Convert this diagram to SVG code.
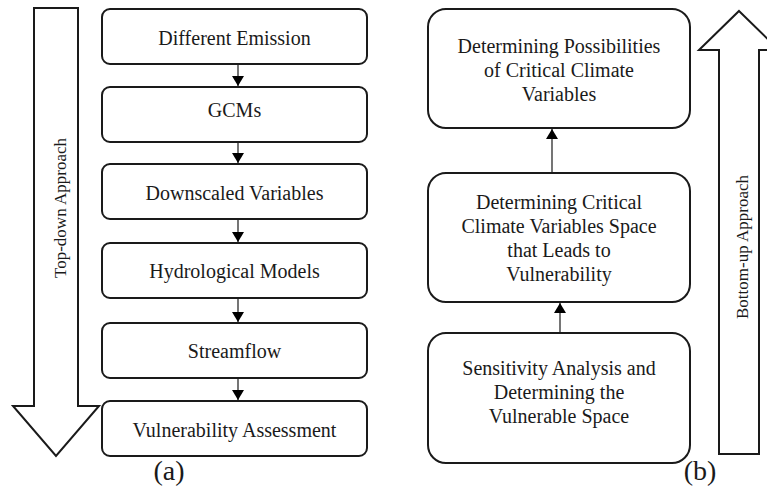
<svg xmlns="http://www.w3.org/2000/svg" width="767" height="489" viewBox="0 0 767 489">
<style>
text{font-family:"Liberation Serif","Times New Roman",serif;fill:#1a1a1a;text-anchor:middle}
.t{font-size:20px}
.v{font-size:17px}
.lab{font-size:28px}
.box{fill:#fff;stroke:#1a1a1a;stroke-width:2}
.big{fill:#fff;stroke:#1a1a1a;stroke-width:2;stroke-linejoin:miter}
.c{stroke:#1a1a1a;stroke-width:1.2;fill:none}
</style>
<defs>
<marker id="ah" markerUnits="userSpaceOnUse" viewBox="0 0 10 12" refX="10" refY="6" markerWidth="10" markerHeight="12" orient="auto">
<path d="M0,0 L10,6 L0,12 Z" fill="#000"/>
</marker>
</defs>
<g id="topdown-arrow">
<polygon class="big" points="34,8 78,8 78,406 99,406 56,456 13,406 34,406"/>
<text class="v" transform="translate(66,208) rotate(-90)">Top-down Approach</text>
</g>
<g id="bottomup-arrow">
<polygon class="big" points="739,11 779,50 759,50 759,454 719,454 719,50 699,50"/>
<text class="v" transform="translate(748,247) rotate(-90)">Bottom-up Approach</text>
</g>
<g id="n1"><rect class="box" x="102" y="9" width="265" height="55" rx="8"/><text class="t" x="234.5" y="45">Different Emission</text></g>
<g id="n2"><rect class="box" x="102" y="87" width="265" height="55" rx="8"/><text class="t" x="234.5" y="117">GCMs</text></g>
<g id="n3"><rect class="box" x="102" y="164" width="265" height="55" rx="8"/><text class="t" x="234.5" y="200">Downscaled Variables</text></g>
<g id="n4"><rect class="box" x="102" y="243" width="265" height="55" rx="8"/><text class="t" x="234.5" y="278">Hydrological Models</text></g>
<g id="n5"><rect class="box" x="102" y="323" width="265" height="55" rx="8"/><text class="t" x="234.5" y="358">Streamflow</text></g>
<g id="n6"><rect class="box" x="102" y="401" width="265" height="55" rx="8"/><text class="t" x="234.5" y="437">Vulnerability Assessment</text></g>
<g id="r1"><rect class="box" x="428" y="9" width="262" height="119" rx="18"/>
<text class="t" x="559" y="53">Determining Possibilities</text>
<text class="t" x="559" y="77">of Critical Climate</text>
<text class="t" x="559" y="101">Variables</text></g>
<g id="r2"><rect class="box" x="428" y="173" width="262" height="129" rx="18"/>
<text class="t" x="559" y="209">Determining Critical</text>
<text class="t" x="559" y="233">Climate Variables Space</text>
<text class="t" x="559" y="257">that Leads to</text>
<text class="t" x="559" y="281">Vulnerability</text></g>
<g id="r3"><rect class="box" x="428" y="333" width="262" height="130" rx="18"/>
<text class="t" x="559" y="375">Sensitivity Analysis and</text>
<text class="t" x="559" y="399">Determining the</text>
<text class="t" x="559" y="423">Vulnerable Space</text></g>
<g id="connectors">
<line class="c" x1="238" y1="65" x2="238" y2="86" marker-end="url(#ah)"/>
<line class="c" x1="238" y1="143" x2="238" y2="163" marker-end="url(#ah)"/>
<line class="c" x1="238" y1="220" x2="238" y2="242" marker-end="url(#ah)"/>
<line class="c" x1="238" y1="299" x2="238" y2="322" marker-end="url(#ah)"/>
<line class="c" x1="238" y1="379" x2="238" y2="400" marker-end="url(#ah)"/>
<line class="c" x1="552" y1="172" x2="552" y2="129" marker-end="url(#ah)"/>
<line class="c" x1="560" y1="332" x2="560" y2="303" marker-end="url(#ah)"/>
</g>
<g id="labels">
<text class="lab" x="169" y="480">(a)</text>
<text class="lab" x="700" y="480">(b)</text>
</g>
</svg>
